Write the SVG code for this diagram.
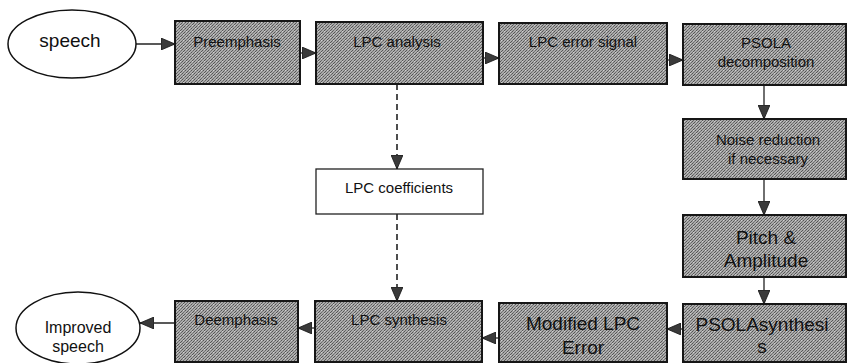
<svg xmlns="http://www.w3.org/2000/svg" width="848" height="363" viewBox="0 0 848 363">
  <defs>
    <!-- halftone-like grey texture used for the processing blocks -->
    <pattern id="halftone" width="6" height="6" patternUnits="userSpaceOnUse">
      <rect width="6" height="6" fill="#ababab"/>
      <rect x="0" y="0" width="1" height="1" fill="#555"/>
      <rect x="3" y="0" width="1" height="1" fill="#6a6a6a"/>
      <rect x="2" y="1" width="1" height="1" fill="#555"/>
      <rect x="5" y="1" width="1" height="1" fill="#777"/>
      <rect x="1" y="2" width="1" height="1" fill="#666"/>
      <rect x="4" y="2" width="1" height="1" fill="#555"/>
      <rect x="0" y="3" width="1" height="1" fill="#777"/>
      <rect x="3" y="3" width="1" height="1" fill="#555"/>
      <rect x="2" y="4" width="1" height="1" fill="#6a6a6a"/>
      <rect x="5" y="4" width="1" height="1" fill="#555"/>
      <rect x="1" y="5" width="1" height="1" fill="#555"/>
      <rect x="4" y="5" width="1" height="1" fill="#777"/>
      <rect x="0" y="1" width="1" height="1" fill="#d0d0d0"/>
      <rect x="3" y="4" width="1" height="1" fill="#d0d0d0"/>
    </pattern>
    <marker id="arrow" viewBox="0 0 14 12" refX="14" refY="6" markerWidth="14" markerHeight="12" markerUnits="userSpaceOnUse" orient="auto">
      <path d="M0,0 L14,6 L0,12 Z" fill="#3a3a3a" stroke="#111" stroke-width="0.8"/>
    </marker>
  </defs>
  <style>
    .block { fill: url(#halftone); stroke: #161616; stroke-width: 2; }
    .plain { fill: #ffffff; stroke: #222; stroke-width: 1.3; }
    .term { fill: #ffffff; stroke: #111; stroke-width: 1.5; }
    .lbl { font-family: "Liberation Sans", Arial, sans-serif; font-size: 15px; fill: #111; text-anchor: middle; }
    .big { font-size: 19px; }
    .term-lbl { font-size: 16px; }
    .flow { fill: none; stroke: #222; stroke-width: 1.3; marker-end: url(#arrow); }
    .dash { stroke-dasharray: 6 4; stroke-width: 1.6; }
  </style>

  <g id="connectors">
    <line class="flow" x1="136" y1="44" x2="175" y2="44"/>
    <line class="flow" x1="300" y1="53" x2="316" y2="53"/>
    <line class="flow" x1="483" y1="58" x2="499" y2="58"/>
    <line class="flow" x1="667" y1="60" x2="683" y2="60"/>
    <line class="flow" x1="764" y1="84" x2="764" y2="119"/>
    <line class="flow" x1="764" y1="179" x2="764" y2="215"/>
    <line class="flow" x1="764" y1="277" x2="764" y2="304"/>
    <line class="flow" x1="683" y1="329" x2="667" y2="329"/>
    <line class="flow" x1="499" y1="338" x2="482" y2="338"/>
    <line class="flow" x1="315" y1="328" x2="298" y2="328"/>
    <line class="flow" x1="175" y1="323" x2="140" y2="323"/>
    <line class="flow dash" x1="397" y1="84" x2="397" y2="169"/>
    <line class="flow dash" x1="397" y1="214" x2="397" y2="301"/>
  </g>

  <g id="speech-in">
    <ellipse class="term" cx="72" cy="44" rx="64" ry="34"/>
    <text class="lbl term-lbl" x="70" y="47" style="font-size:19px">speech</text>
  </g>

  <g id="preemphasis">
    <rect class="block" x="175" y="21" width="125" height="63"/>
    <text class="lbl" x="237" y="47">Preemphasis</text>
  </g>

  <g id="lpc-analysis">
    <rect class="block" x="316" y="22" width="167" height="62"/>
    <text class="lbl" x="397" y="47">LPC analysis</text>
  </g>

  <g id="lpc-error-signal">
    <rect class="block" x="499" y="23" width="168" height="61"/>
    <text class="lbl" x="583" y="47">LPC error signal</text>
  </g>

  <g id="psola-decomposition">
    <rect class="block" x="683" y="24" width="163" height="61"/>
    <text class="lbl" x="766" y="48">PSOLA</text>
    <text class="lbl" x="766" y="67">decomposition</text>
  </g>

  <g id="noise-reduction">
    <rect class="block" x="683" y="119" width="163" height="60"/>
    <text class="lbl" x="768" y="145">Noise reduction</text>
    <text class="lbl" x="768" y="164">if necessary</text>
  </g>

  <g id="pitch-amplitude">
    <rect class="block" x="683" y="215" width="163" height="62"/>
    <text class="lbl big" x="766" y="244">Pitch &amp;</text>
    <text class="lbl big" x="766" y="267">Amplitude</text>
  </g>

  <g id="lpc-coefficients">
    <rect class="plain" x="316" y="169" width="167" height="45"/>
    <text class="lbl" x="399" y="193">LPC coefficients</text>
  </g>

  <g id="psola-synthesis">
    <rect class="block" x="683" y="304" width="163" height="58"/>
    <text class="lbl big" x="762" y="331">PSOLAsynthesi</text>
    <text class="lbl big" x="762" y="353">s</text>
  </g>

  <g id="modified-lpc-error">
    <rect class="block" x="499" y="303" width="168" height="59"/>
    <text class="lbl big" x="583" y="330">Modified LPC</text>
    <text class="lbl big" x="583" y="354">Error</text>
  </g>

  <g id="lpc-synthesis">
    <rect class="block" x="315" y="301" width="167" height="61"/>
    <text class="lbl" x="399" y="325">LPC synthesis</text>
  </g>

  <g id="deemphasis">
    <rect class="block" x="175" y="301" width="123" height="61"/>
    <text class="lbl" x="236" y="325">Deemphasis</text>
  </g>

  <g id="speech-out">
    <ellipse class="term" cx="78" cy="328" rx="62" ry="36"/>
    <text class="lbl term-lbl" x="78" y="333">Improved</text>
    <text class="lbl term-lbl" x="78" y="352">speech</text>
  </g>
</svg>
